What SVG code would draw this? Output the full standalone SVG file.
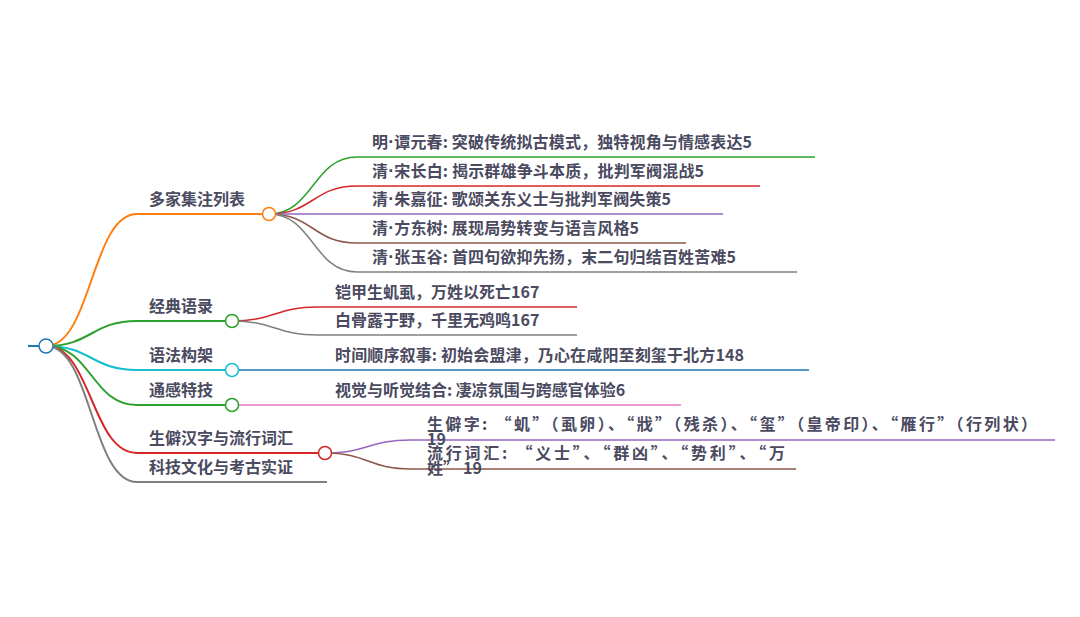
<svg xmlns="http://www.w3.org/2000/svg" width="1080" height="617" viewBox="0 0 1080 617">
<style>
text{font-family:"Noto Sans CJK SC","Noto Sans",sans-serif;font-size:16px;font-weight:bold;fill:#4a4a60}
.d{font-family:"Liberation Sans",sans-serif;font-size:18px}
.l1{fill:none;stroke-width:2}
.l2{fill:none;stroke-width:1.5}
.c{fill:#fff;stroke-width:1.5}
</style>
<rect width="1080" height="617" fill="#fff"/>
<g id="connectors">
<path class="l1" stroke="#ff7f0e" d="M46,346 C91.5,346 91.5,214 137,214"/>
<path class="l1" stroke="#2ca02c" d="M46,346 C91.5,346 91.5,321 137,321"/>
<path class="l1" stroke="#17becf" d="M46,346 C91.5,346 91.5,370 137,370"/>
<path class="l1" stroke="#2ca02c" d="M46,346 C91.5,346 91.5,405 137,405"/>
<path class="l1" stroke="#d62728" d="M46,346 C91.5,346 91.5,453 137,453"/>
<path class="l1" stroke="#7f7f7f" d="M46,346 C91.5,346 91.5,482 137,482"/>
<path class="l2" stroke="#2ca02c" d="M269,214 C313,214 313,157 357,157"/>
<path class="l2" stroke="#d62728" d="M269,214 C313,214 313,186 357,186"/>
<path class="l2" stroke="#9467bd" d="M269,214 L357,214"/>
<path class="l2" stroke="#8c564b" d="M269,214 C313,214 313,243 357,243"/>
<path class="l2" stroke="#7f7f7f" d="M269,214 C313,214 313,272 357,272"/>
<path class="l2" stroke="#d62728" d="M232,321 C275,321 275,307 318,307"/>
<path class="l2" stroke="#7f7f7f" d="M232,321 C275,321 275,335 318,335"/>
<path class="l2" stroke="#1f77b4" d="M232,370 L318,370"/>
<path class="l2" stroke="#e377c2" d="M232,405 L318,405"/>
<path class="l2" stroke="#9467bd" d="M325,453 C368,453 368,440 411,440"/>
<path class="l2" stroke="#8c564b" d="M325,453 C368,453 368,469 411,469"/>
</g>
<g id="root">
<line x1="28" y1="346" x2="46" y2="346" stroke="#1f77b4" stroke-width="2"/>
<circle class="c" cx="46" cy="346" r="7" stroke="#1f77b4"/>
</g>
<g id="n-duojia">
<line x1="137" y1="214" x2="269" y2="214" stroke="#ff7f0e" stroke-width="2"/>
<circle class="c" cx="269" cy="214" r="6.5" stroke="#ff7f0e"/>
<text x="149" y="205">多家集注列表</text>
</g>
<g id="n-tan">
<line x1="357" y1="157" x2="815" y2="157" stroke="#2ca02c" stroke-width="1.5"/>
<text x="372" y="148" textLength="380" lengthAdjust="spacing">明<tspan class="d">·</tspan>谭元春: 突破传统拟古模式，独特视角与情感表达5</text>
</g>
<g id="n-song">
<line x1="357" y1="186" x2="760" y2="186" stroke="#d62728" stroke-width="1.5"/>
<text x="372" y="177" textLength="332" lengthAdjust="spacing">清<tspan class="d">·</tspan>宋长白: 揭示群雄争斗本质，批判军阀混战5</text>
</g>
<g id="n-zhu">
<line x1="357" y1="214" x2="723" y2="214" stroke="#9467bd" stroke-width="1.5"/>
<text x="372" y="205" textLength="299" lengthAdjust="spacing">清<tspan class="d">·</tspan>朱嘉征: 歌颂关东义士与批判军阀失策5</text>
</g>
<g id="n-fang">
<line x1="357" y1="243" x2="686" y2="243" stroke="#8c564b" stroke-width="1.5"/>
<text x="372" y="234" textLength="267" lengthAdjust="spacing">清<tspan class="d">·</tspan>方东树: 展现局势转变与语言风格5</text>
</g>
<g id="n-zhang">
<line x1="357" y1="272" x2="797" y2="272" stroke="#7f7f7f" stroke-width="1.5"/>
<text x="372" y="263" textLength="364" lengthAdjust="spacing">清<tspan class="d">·</tspan>张玉谷: 首四句欲抑先扬，末二句归结百姓苦难5</text>
</g>
<g id="n-jingdian">
<line x1="137" y1="321" x2="232" y2="321" stroke="#2ca02c" stroke-width="2"/>
<circle class="c" cx="232" cy="321" r="6.5" stroke="#2ca02c"/>
<text x="149" y="312">经典语录</text>
</g>
<g id="n-kaijia">
<line x1="318" y1="307" x2="577" y2="307" stroke="#d62728" stroke-width="1.5"/>
<text x="335" y="298">铠甲生虮虱，万姓以死亡167</text>
</g>
<g id="n-baigu">
<line x1="318" y1="335" x2="577" y2="335" stroke="#7f7f7f" stroke-width="1.5"/>
<text x="335" y="326">白骨露于野，千里无鸡鸣167</text>
</g>
<g id="n-yufa">
<line x1="137" y1="370" x2="232" y2="370" stroke="#17becf" stroke-width="2"/>
<circle class="c" cx="232" cy="370" r="6.5" stroke="#17becf"/>
<text x="149" y="361">语法构架</text>
</g>
<g id="n-shijian">
<line x1="318" y1="370" x2="809" y2="370" stroke="#1f77b4" stroke-width="1.5"/>
<text x="335" y="361" textLength="409" lengthAdjust="spacing">时间顺序叙事: 初始会盟津，乃心在咸阳至刻玺于北方148</text>
</g>
<g id="n-tonggan">
<line x1="137" y1="405" x2="232" y2="405" stroke="#2ca02c" stroke-width="2"/>
<circle class="c" cx="232" cy="405" r="6.5" stroke="#2ca02c"/>
<text x="149" y="396">通感特技</text>
</g>
<g id="n-shijue">
<line x1="318" y1="405" x2="681" y2="405" stroke="#e377c2" stroke-width="1.5"/>
<text x="335" y="396">视觉与听觉结合: 凄凉氛围与跨感官体验6</text>
</g>
<g id="n-shengpi">
<line x1="137" y1="453" x2="325" y2="453" stroke="#d62728" stroke-width="2"/>
<circle class="c" cx="325" cy="453" r="6.5" stroke="#d62728"/>
<text x="149" y="444">生僻汉字与流行词汇</text>
</g>
<g id="n-shengpizi">
<line x1="411" y1="440" x2="1055" y2="440" stroke="#9467bd" stroke-width="1.5"/>
<text x="427" y="430" textLength="610" lengthAdjust="spacing">生僻字: “虮”（虱卵）、“戕”（残杀）、“玺”（皇帝印）、“雁行”（行列状）</text>
<text x="427" y="445">19</text>
</g>
<g id="n-liuxing">
<line x1="411" y1="469" x2="796" y2="469" stroke="#8c564b" stroke-width="1.5"/>
<text x="427" y="459" textLength="358" lengthAdjust="spacing">流行词汇: “义士”、“群凶”、“势利”、“万</text>
<text x="427" y="474">姓”<tspan dx="4">19</tspan></text>
</g>
<g id="n-keji">
<line x1="137" y1="482" x2="327" y2="482" stroke="#7f7f7f" stroke-width="2"/>
<text x="149" y="473">科技文化与考古实证</text>
</g>
</svg>
